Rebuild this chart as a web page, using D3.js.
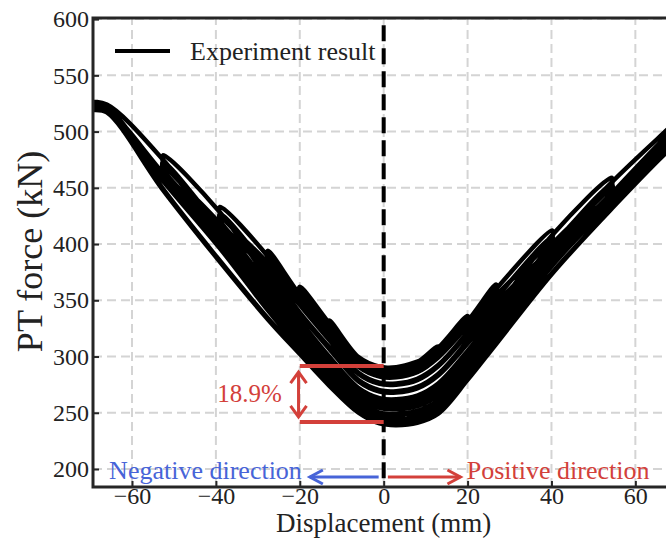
<!DOCTYPE html>
<html><head><meta charset="utf-8">
<script src="https://cdn.jsdelivr.net/npm/d3@7"></script>
<style>body{margin:0;background:#fff} svg{display:block} text{font-family:'Liberation Serif','Times New Roman',Times,serif}</style>
</head><body>
<svg id="c" width="666" height="539"></svg>
<script>
// ---------- data ----------
const xTicks = [-60, -40, -20, 0, 20, 40, 60];
const yTicks = [200, 250, 300, 350, 400, 450, 500, 550, 600];
const legendLabel = "Experiment result";
const xLabel = "Displacement (mm)";
const yLabel = "PT force (kN)";

// experiment path, half cycle by half cycle: [displacement mm, PT force kN]
const start = [[-1,291],[3,290],[8,295],[13,309]];
const hc1 = [[13,303.5],[8,295.5],[3,290.5],[-1,291],[-6,299.5],[-13,332]];
const hc2 = [[-13,326],[-6,299],[-1,290.5],[3,290],[8,295],[13,307]];
const hc3 = [[13,301],[8,294.5],[3,289.5],[-1,290],[-6,298.5],[-13,330]];
const hc4 = [[-13,324],[-6,298],[-1,289.5],[3,289],[8,294],[13,307.8],[20,336]];
const hc5 = [[20,330],[13,306.6],[8,292.8],[3,288],[-1,288.5],[-6,297],[-13,329.6],[-20,362]];
const hc6 = [[-20,356],[-13,329],[-6,296.5],[-1,288],[3,287.4],[8,292.3],[13,306],[20,333]];
const hc7 = [[20,327],[13,304.7],[8,291.2],[3,286.4],[-1,287],[-6,295.5],[-13,327.9],[-20,358]];
const hc8 = [[-20,352],[-13,327.3],[-6,295],[-1,286.4],[3,285.8],[8,290.6],[13,304.1],[20,331.4],[26.8,364]];
const hc9 = [[26.8,358],[20,329.3],[13,302],[8,288.7],[3,284],[-1,284.6],[-6,293.3],[-13,325.2],[-20,355],[-27.6,394]];
const hc10 = [[-27.6,388],[-20,354.4],[-13,324.6],[-6,292.8],[-1,284.1],[3,283.5],[8,288.1],[13,301.4],[20,328.8],[26.8,360]];
const hc11 = [[26.8,354],[20,327.1],[13,299.6],[8,286.5],[3,282],[-1,282.6],[-6,291.3],[-13,322.9],[-20,352.6],[-27.6,390]];
const hc12 = [[-27.6,384],[-20,352.1],[-13,322.4],[-6,290.9],[-1,282.2],[3,281.5],[8,286],[13,299.1],[20,327.5],[26.8,360],[40.2,412]];
const hc13 = [[40.2,406],[26.8,354],[20,321.5],[13,292.5],[8,280.2],[3,276],[-1,276.7],[-6,285.5],[-13,316.1],[-20,349],[-27.6,389],[-39,433]];
const hc14 = [[-39,427],[-27.6,383],[-20,346],[-13,314.9],[-6,284.5],[-1,275.7],[3,275],[8,279],[13,291.3],[20,320],[26.8,352],[40.2,406]];
const hc15 = [[40.2,400],[26.8,347],[20,314],[13,284.6],[8,273],[3,269.2],[-1,270.1],[-6,279],[-13,308.4],[-20,339],[-27.6,378],[-39,427]];
const hc16 = [[-39,421],[-27.6,375],[-20,338],[-13,307],[-6,277.9],[-1,268.9],[3,268],[8,271.7],[13,283.2],[20,311.5],[26.8,342],[40.2,408],[54.4,459]];
const hc17 = [[54.4,453],[40.2,400],[26.8,337],[20,305],[13,276.1],[8,265.3],[3,262],[-1,263],[-6,272],[-13,300.1],[-20,332],[-27.6,369],[-39,428],[-52.6,479]];
const hc18 = [[-52.6,473],[-39,418],[-27.6,364],[-20,328.5],[-13,299],[-6,271],[-1,262],[3,260.9],[8,264.2],[13,274.8],[20,304],[26.8,336],[40.2,398],[54.4,453]];
const hc19 = [[54.4,447],[40.2,395],[26.8,332],[20,299],[13,269.4],[8,259.3],[3,256.2],[-1,257.4],[-6,266.5],[-13,293.7],[-20,324],[-27.6,360],[-39,414],[-52.6,473]];
const hc19b = [[-52.6,467],[-39,412],[-27.6,361],[-20,325.5],[-13,296],[-6,268.5],[-1,259.4],[3,258.3],[8,261.5],[13,271.8],[20,301],[26.8,333],[40.2,394],[54.4,449]];
const hc19c = [[54.4,443],[40.2,391],[26.8,328],[20,295.5],[13,265.7],[8,256],[3,253.1],[-1,254.3],[-6,263.5],[-13,290.1],[-20,320],[-27.6,356],[-39,410],[-52.6,470]];
const hc20 = [[-52.6,464],[-39,408],[-27.6,357],[-20,322],[-13,292.5],[-6,265.5],[-1,256.3],[3,255.2],[8,258.2],[13,268.1],[20,297.1],[26.8,328.5],[40.2,398],[54.4,455],[68,503],[70,510]];
const hc21 = [[70,504],[68,498],[54.4,445],[40.2,388],[26.8,324],[20,291],[13,260.8],[8,251.6],[3,249],[-1,250.2],[-6,259.5],[-13,285.4],[-20,314.5],[-27.6,350],[-39,410],[-52.6,475],[-66,524],[-69.8,525.5]];
const hc22 = [[-69.8,522],[-66,519.5],[-52.6,463],[-39,404],[-27.6,348],[-20,313],[-13,284.2],[-6,258.5],[-1,249.2],[3,247.9],[8,250.5],[13,259.6],[20,289.5],[26.8,322],[40.2,385],[54.4,442],[68,495],[70,501]];
const hc22b = [[70,495],[68,490],[54.4,438],[40.2,381],[26.8,317],[20,284],[13,254.1],[8,245.5],[3,244.5],[-1,245.9],[-6,255.3],[-13,280.4],[-20,309],[-27.6,343],[-39,398],[-52.6,458],[-66,521.5],[-69.8,524]];
const hc22c = [[-69.8,521],[-66,518.5],[-52.6,456],[-39,396],[-27.6,341],[-20,307.5],[-13,278.9],[-6,254],[-1,244.6],[3,243.2],[8,246.9],[13,255.6],[20,285.3],[26.8,317.5],[40.2,381],[54.4,437],[68,490],[70,497]];
const hc23 = [[70,491],[68,485],[54.4,432.1],[40.2,374.6],[26.8,312.2],[20,280.3],[13,250.4],[8,242.2],[3,240.1],[-1,241.5],[-6,251],[-13,275.4],[-20,303.4],[-27.6,334],[-39,385],[-52.6,449],[-66,521],[-69.8,523]];
const hc24 = [[-69.8,520],[-66,517],[-52.6,448],[-39,384],[-27.6,333],[-20,302.2],[-13,274.2],[-6,250],[-1,240.5],[3,239],[8,241.1],[13,249.2],[20,279.2],[26.8,311.1],[40.2,373.8],[54.4,431.6],[68,483.4],[70.5,491]];
const halfCycles = [start, hc1, hc2, hc3, hc4, hc5, hc6, hc7, hc8, hc9, hc10, hc11, hc12,
  hc13, hc14, hc15, hc16, hc17, hc18, hc19, hc19b, hc19c, hc20, hc21, hc22, hc22b, hc22c, hc23, hc24];

// annotation values
const lossForces = [291.6, 241.8];
const lossLabel = "18.9%";
const negLabel = "Negative direction";
const posLabel = "Positive direction";

// ---------- drawing ----------
const red = "#d3403a", blue = "#4764d8", spine = "#262626";
const serif = "'Liberation Serif','Times New Roman',Times,serif";
const svg = d3.select("#c");
const x = d3.scaleLinear().domain([-69.3, 70.5]).range([93, 679.4]);
const y = d3.scaleLinear().domain([184, 601]).range([487, 18]);
const [x0, x1] = x.range(), [yb, yt] = y.range();

svg.append("defs").append("clipPath").attr("id", "clip")
  .append("rect").attr("x", x0).attr("y", yt).attr("width", x1 - x0).attr("height", yb - yt);

// grid
const grid = svg.append("g").attr("stroke", "#d4d4d4").attr("stroke-width", 2).attr("stroke-dasharray", "9,5");
grid.selectAll(".gx").data(xTicks).join("line").attr("class", "gx")
  .attr("x1", d => x(d)).attr("x2", d => x(d)).attr("y1", yb).attr("y2", yt);
grid.selectAll(".gy").data(yTicks).join("line").attr("class", "gy")
  .attr("y1", d => y(d)).attr("y2", d => y(d)).attr("x1", x0).attr("x2", x1);

// curves
const line = d3.line().x(d => x(d[0])).y(d => y(d[1])).curve(d3.curveCatmullRom.alpha(0.5));
svg.append("g").attr("clip-path", "url(#clip)")
  .append("path").attr("d", line(halfCycles.flat()))
  .attr("fill", "none").attr("stroke", "#000").attr("stroke-width", 4.5)
  .attr("stroke-linejoin", "round").attr("stroke-linecap", "round");

// zero dashed line
svg.append("line").attr("x1", x(0)).attr("x2", x(0)).attr("y1", y(594.5)).attr("y2", y(188))
  .attr("stroke", "#000").attr("stroke-width", 4).attr("stroke-dasharray", "16,7");

// red loss annotation
const ann = svg.append("g").attr("stroke", red).attr("fill", "none");
ann.selectAll("line.loss").data(lossForces).join("line").attr("class", "loss")
  .attr("x1", x(-20)).attr("x2", x(0)).attr("y1", d => y(d)).attr("y2", d => y(d)).attr("stroke-width", 4);
const ax = x(-20.3), ayT = y(lossForces[0] - 5.5), ayB = y(lossForces[1] + 4.5);
ann.append("line").attr("x1", ax).attr("x2", ax).attr("y1", ayT).attr("y2", ayB).attr("stroke-width", 3);
ann.append("path").attr("stroke-width", 3).attr("stroke-linejoin", "miter")
  .attr("d", `M${ax-8},${ayT+11}L${ax},${ayT}L${ax+8},${ayT+11}M${ax-8},${ayB-11}L${ax},${ayB}L${ax+8},${ayB-11}`);
svg.append("text").attr("x", x(-24.3)).attr("y", y(267.6)).attr("dy", "0.35em")
  .attr("text-anchor", "end").attr("fill", red).style("font-family", serif).attr("font-size", 25).text(lossLabel);

// direction arrows
const ay = y(192.9);
const nb = svg.append("g").attr("stroke", blue).attr("fill", "none").attr("stroke-width", 3);
nb.append("line").attr("x1", x(-1.2)).attr("x2", x(-17.6)).attr("y1", ay).attr("y2", ay);
nb.append("path").attr("d", `M${x(-17.6)+13},${ay-7}L${x(-17.6)},${ay}L${x(-17.6)+13},${ay+7}`);
const pb = svg.append("g").attr("stroke", red).attr("fill", "none").attr("stroke-width", 3);
pb.append("line").attr("x1", x(1)).attr("x2", x(18.3)).attr("y1", ay).attr("y2", ay);
pb.append("path").attr("d", `M${x(18.3)-13},${ay-7}L${x(18.3)},${ay}L${x(18.3)-13},${ay+7}`);
svg.append("text").attr("x", x(-19.5)).attr("y", y(191)).attr("text-anchor", "end")
  .attr("fill", blue).style("font-family", serif).attr("font-size", 26).text(negLabel);
svg.append("text").attr("x", x(19.8)).attr("y", y(191)).attr("text-anchor", "start")
  .attr("fill", red).style("font-family", serif).attr("font-size", 26).text(posLabel);

// axes
const fmt = d => d < 0 ? "\u2212" + Math.abs(d) : String(d);
const gx = svg.append("g").attr("transform", `translate(0,${yb})`)
  .call(d3.axisBottom(x).tickValues(xTicks).tickSize(-6).tickPadding(0).tickFormat(fmt));
const gy = svg.append("g").attr("transform", `translate(${x0},0)`)
  .call(d3.axisLeft(y).tickValues(yTicks).tickSize(-6).tickPadding(4).tickFormat(fmt));
[gx, gy].forEach(g => {
  g.attr("font-family", null).attr("font-size", null);
  g.select(".domain").remove();
  g.selectAll(".tick line").attr("stroke", spine).attr("stroke-width", 2);
  g.selectAll(".tick text").attr("fill", "#222").style("font-family", serif).style("font-size", "24px");
});

// spines
const sp = svg.append("g").attr("stroke", spine).attr("stroke-width", 3).attr("fill", "none");
sp.append("path").attr("d", `M${x1},${yt}H${x0}V${yb}H${x1}`);

// legend
svg.append("line").attr("x1", 115).attr("x2", 170).attr("y1", 51).attr("y2", 51)
  .attr("stroke", "#000").attr("stroke-width", 4);
svg.append("text").attr("x", 190).attr("y", 60).attr("fill", "#222")
  .style("font-family", serif).attr("font-size", 26).text(legendLabel);

// axis titles
svg.append("text").attr("x", x(0)).attr("y", 532).attr("text-anchor", "middle").attr("fill", "#222")
  .style("font-family", serif).attr("font-size", 27).text(xLabel);
svg.append("text").attr("transform", "translate(42,251.5) rotate(-90)").attr("text-anchor", "middle")
  .attr("fill", "#222").style("font-family", serif).attr("font-size", 36).text(yLabel);
</script>
</body></html>
